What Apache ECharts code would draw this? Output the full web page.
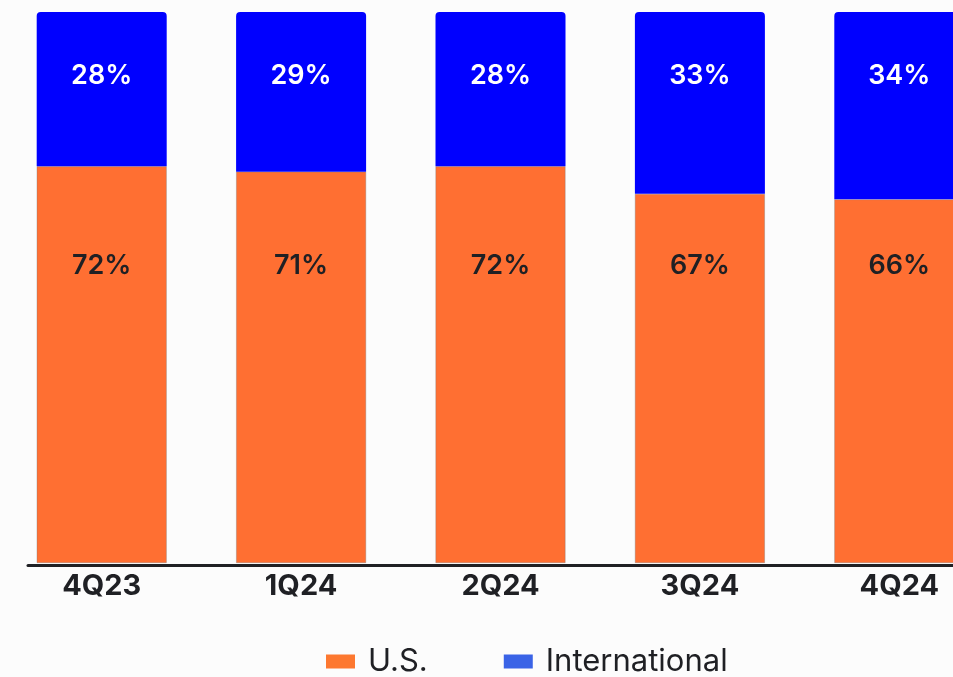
<!DOCTYPE html>
<html><head><meta charset="utf-8">
<script src="https://cdn.jsdelivr.net/npm/echarts@6/dist/echarts.min.js"></script>
<style>html,body{margin:0;padding:0;background:#fcfcfc;}#c{width:953px;height:677px;}</style>
</head><body><div id="c"></div>
<script>
const categories = ['4Q23', '1Q24', '2Q24', '3Q24', '4Q24'];
const usValues = [72, 71, 72, 67, 66];
const intlValues = [28, 29, 28, 33, 34];
const seriesNames = ['U.S.', 'International'];

const chart = echarts.init(document.getElementById('c'));
const labelFont = {fontFamily: 'Inter', fontWeight: 600, fontSize: 27};
function build(usLabelOffsets, intlLabelOffset) {
  return {
    backgroundColor: '#fcfcfc',
    animation: false,
    legend: {
      left: 321, top: 641, itemWidth: 29, itemHeight: 14, itemGap: 76, icon: 'rect',
      itemStyle: {borderWidth: 0},
      textStyle: {fontFamily: 'Inter', fontSize: 31, color: '#1f2024', padding: [0, 0, 0, 8]},
      data: [{name: seriesNames[0], itemStyle: {color: '#fd7830', borderWidth: 0}}, {name: seriesNames[1], itemStyle: {color: '#3a63e6', borderWidth: 0}}]
    },
    grid: [
      {left: 2, width: 997, top: 12, bottom: 114, containLabel: false, outerBoundsMode: 'none'},
      {left: 28, right: 0, top: 12, bottom: 112, containLabel: false, outerBoundsMode: 'none'}
    ],
    xAxis: [
      {type: 'category', data: categories, gridIndex: 0,
       axisLine: {show: false}, axisTick: {show: false},
       axisLabel: {margin: 9, color: '#1f2024', fontFamily: 'Inter', fontWeight: 700, fontSize: 29}},
      {type: 'category', data: [], gridIndex: 1,
       axisLine: {show: true, lineStyle: {color: '#1f2024', width: 3}}, axisTick: {show: false}, axisLabel: {show: false}}
    ],
    yAxis: [
      {type: 'value', min: 0, max: 100, gridIndex: 0, show: false},
      {type: 'value', min: 0, max: 100, gridIndex: 1, show: false}
    ],
    series: [
      {name: seriesNames[0], type: 'bar', stack: 'a', barWidth: 130,
       itemStyle: {color: '#ff6f32', borderColor: 'rgba(120,120,120,0.6)', borderWidth: 0.6},
       data: usValues.map((v, i) => ({value: v, label: {position: ['50%', usLabelOffsets ? usLabelOffsets[i] : 100]}})),
       label: {show: true, formatter: '{c}%', color: '#1f2024', align: 'center', verticalAlign: 'middle', ...labelFont}},
      {name: seriesNames[1], type: 'bar', stack: 'a', barWidth: 130,
       itemStyle: {color: '#0000ff', borderRadius: [4, 4, 0, 0]},
       data: intlValues.map(v => ({value: v, label: {position: ['50%', intlLabelOffset]}})),
       label: {show: true, formatter: '{c}%', color: '#ffffff', align: 'center', verticalAlign: 'middle', ...labelFont}}
    ]
  };
}
chart.setOption(build(null, 64));
// fixed label rows: compute offsets relative to each orange bar's top
const topPx = chart.convertToPixel({yAxisIndex: 0}, 100);
const usRowPx = topPx + 254;
const offsets = usValues.map(v => usRowPx - chart.convertToPixel({yAxisIndex: 0}, v));
chart.setOption(build(offsets, 64));
</script></body></html>
